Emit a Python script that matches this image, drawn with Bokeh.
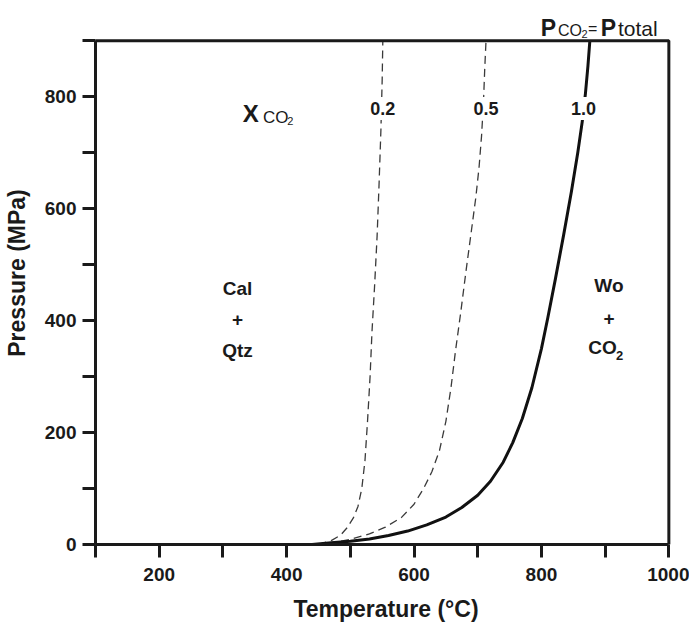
from bokeh.plotting import figure
from bokeh.models import Range1d, FixedTicker, Label, BoxAnnotation
from bokeh.embed import file_html
from bokeh.resources import INLINE

# Wo + CO2 reaction curves (Temperature °C vs Pressure MPa)
t_x10 = [440, 470, 500, 530, 560, 590, 620, 650, 675, 700, 720, 740, 755, 770, 785,
         800, 810, 822, 835, 847, 857, 864, 869, 873, 876]
p_x10 = [0, 3, 6, 10, 16, 24, 35, 49, 66, 88, 113, 147, 182, 225, 280,
         350, 405, 475, 554, 630, 700, 755, 805, 855, 900]

t_x05 = [445, 470, 500, 530, 555, 580, 600, 615, 628, 640, 650, 658, 665, 673,
         682, 690, 697, 702, 706, 709, 711, 713]
p_x05 = [0, 3, 9, 19, 31, 48, 72, 100, 130, 168, 220, 280, 345, 412,
         492, 560, 620, 673, 730, 790, 850, 900]

t_x02 = [450, 470, 485, 495, 505, 512, 518, 523, 527, 531, 534, 538, 542, 545, 548, 550, 551]
p_x02 = [0, 7, 17, 30, 48, 68, 100, 150, 220, 300, 380, 460, 550, 640, 740, 830, 900]

x_major = [200, 400, 600, 800, 1000]
x_minor = [100, 300, 500, 700, 900]
y_major = [0, 200, 400, 600, 800]
y_minor = [100, 300, 500, 700, 900]

FONT = "Liberation Sans"
INK = "#1a1a1a"

p = figure(width=689, height=628, output_backend="svg", toolbar_location=None,
           x_range=Range1d(100, 1012), y_range=Range1d(0, 970),
           min_border_left=95, min_border_right=13, min_border_top=1, min_border_bottom=84)
p.grid.visible = False
p.background_fill_color = "white"
p.border_fill_color = "white"
p.outline_line_color = None

p.add_layout(BoxAnnotation(left=100, right=1000, bottom=0, top=900,
                           fill_alpha=0, line_color=INK, line_alpha=1.0, line_width=3))

p.xaxis.ticker = FixedTicker(ticks=x_major, minor_ticks=x_minor)
p.yaxis.ticker = FixedTicker(ticks=y_major, minor_ticks=y_minor)
p.xaxis.bounds = (100, 1000)
p.yaxis.bounds = (0, 900)
p.xaxis.axis_label = "Temperature (°C)"
p.yaxis.axis_label = "Pressure (MPa)"
for ax in (p.xaxis, p.yaxis):
    ax.axis_line_width = 3
    ax.axis_line_color = INK
    ax.major_tick_line_width = 3
    ax.minor_tick_line_width = 3
    ax.major_tick_line_color = INK
    ax.minor_tick_line_color = INK
    ax.major_tick_in = 0
    ax.minor_tick_in = 0
    ax.major_tick_out = 13
    ax.minor_tick_out = 13
    ax.major_label_text_font = FONT
    ax.major_label_text_font_style = "bold"
    ax.major_label_text_font_size = "19px"
    ax.major_label_text_color = INK
    ax.axis_label_text_font = FONT
    ax.axis_label_text_font_style = "bold"
    ax.axis_label_text_font_size = "23px"
    ax.axis_label_text_color = INK
p.xaxis.major_label_standoff = 10
p.yaxis.major_label_standoff = 6
p.xaxis.axis_label_standoff = 12
p.yaxis.axis_label_standoff = 12

p.line(t_x02, p_x02, line_color="#3a3a3a", line_width=1.3, line_dash="8 5")
p.line(t_x05, p_x05, line_color="#3a3a3a", line_width=1.3, line_dash="8 5")
p.line(t_x10, p_x10, line_color="#111111", line_width=3, line_join="round")


def txt(x, y, s, size, bold=True, align="left", baseline="alphabetic", bg=None):
    lab = Label(x=x, y=y, text=s, text_font=FONT, text_font_size=f"{size}px",
                text_font_style="bold" if bold else "normal",
                text_align=align, text_baseline=baseline, text_color=INK)
    if bg:
        lab.background_fill_color = bg
        lab.padding = 5
    p.add_layout(lab)


# X_CO2 heading
txt(331, 770, "X", 24)
txt(363, 762, "CO", 17, bold=False)
txt(401, 757, "2", 11, bold=False)

# isopleth labels
for tx, s in [(551, "0.2"), (713, "0.5"), (866, "1.0")]:
    txt(tx, 779, s, 18, align="center", baseline="middle", bg="white")

# field labels
txt(323, 457, "Cal", 19, align="center", baseline="middle")
txt(323, 402, "+", 19, align="center", baseline="middle")
txt(323, 346, "Qtz", 19, align="center", baseline="middle")

txt(906, 463, "Wo", 19, align="center", baseline="middle")
txt(906, 404, "+", 19, align="center", baseline="middle")
txt(896, 352, "CO", 19, align="center", baseline="middle")
txt(917, 338, "2", 13, align="left", baseline="middle")

# P_CO2 = P_total
txt(799, 923, "P", 23)
txt(826, 918, "CO", 16, bold=False)
txt(863, 912, "2", 11, bold=False)
txt(873, 921, "=", 16, bold=False)
txt(893, 923, "P", 23)
txt(920, 921, "total", 21, bold=False)

open("out.html", "w").write(file_html(p, INLINE))
